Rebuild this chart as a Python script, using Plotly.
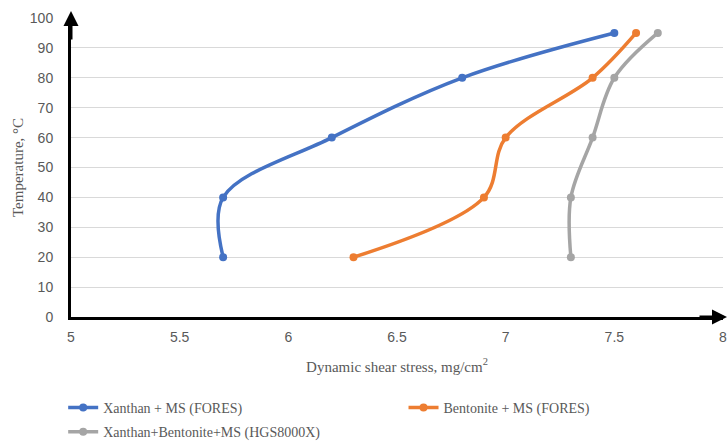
import plotly.graph_objects as go

temps = [20, 40, 60, 80, 95]
xanthan = [5.7, 5.7, 6.2, 6.8, 7.5]
bentonite = [6.3, 6.9, 7.0, 7.4, 7.6]
mixed = [7.3, 7.3, 7.4, 7.5, 7.7]
names = ["Xanthan + MS (FORES)", "Bentonite + MS (FORES)", "Xanthan+Bentonite+MS (HGS8000X)"]
colors = ["#4472C4", "#ED7D31", "#A5A5A5"]
x_ticks = [5, 5.5, 6, 6.5, 7, 7.5, 8]
y_ticks = [0, 10, 20, 30, 40, 50, 60, 70, 80, 90, 100]

fig = go.Figure()
legends = ["legend", "legend2", "legend3"]
for xs, name, col, lg in zip([xanthan, bentonite, mixed], names, colors, legends):
    fig.add_trace(go.Scatter(
        x=xs, y=temps, name=name, mode="lines+markers",
        line=dict(color=col, width=3.5, shape="spline", smoothing=1),
        marker=dict(color=col, size=8),
        legend=lg,
    ))

tick_font = dict(family="Liberation Sans", size=14, color="#595959")
leg_font = dict(family="Liberation Serif", size=14, color="#595959")

fig.update_layout(
    width=728, height=442,
    margin=dict(l=71, r=5, t=18, b=125, autoexpand=False),
    plot_bgcolor="white", paper_bgcolor="white",
    xaxis=dict(range=[5, 8], tickvals=x_ticks, ticktext=[str(v) for v in x_ticks],
               showgrid=False, zeroline=False, showline=True, linecolor="black", linewidth=3,
               tickfont=tick_font, ticks="", ticklen=0, ticklabelstandoff=5,
               title=dict(text="Dynamic shear stress, mg/cm<sup>2</sup>",
                          font=dict(family="Liberation Serif", size=15, color="#595959"),
                          standoff=18)),
    yaxis=dict(range=[0, 100], tickvals=y_ticks, showgrid=True, gridcolor="#D9D9D9", gridwidth=1,
               zeroline=False, showline=True, linecolor="black", linewidth=3,
               tickfont=tick_font, ticks="", ticklen=0, ticklabelstandoff=12,
               title=dict(text="Temperature, °C",
                          font=dict(family="Liberation Serif", size=15, color="#595959"),
                          standoff=3)),
    legend=dict(x=-0.012, y=-0.304, xanchor="left", yanchor="middle", font=leg_font,
                bgcolor="rgba(0,0,0,0)"),
    legend2=dict(x=0.51, y=-0.304, xanchor="left", yanchor="middle", font=leg_font,
                 bgcolor="rgba(0,0,0,0)"),
    legend3=dict(x=-0.012, y=-0.385, xanchor="left", yanchor="middle", font=leg_font,
                 bgcolor="rgba(0,0,0,0)"),
    showlegend=True,
)

# axis arrowheads
fig.add_annotation(x=0, y=1 + 7 / 299, xref="paper", yref="paper", ax=0, ay=30,
                   showarrow=True, arrowhead=2, arrowsize=1, arrowwidth=3, arrowcolor="black", text="")
fig.add_annotation(x=1 + 5 / 652, y=0, xref="paper", yref="paper", ax=-30, ay=0,
                   showarrow=True, arrowhead=2, arrowsize=1, arrowwidth=3, arrowcolor="black", text="")

fig.write_html("out.html")
